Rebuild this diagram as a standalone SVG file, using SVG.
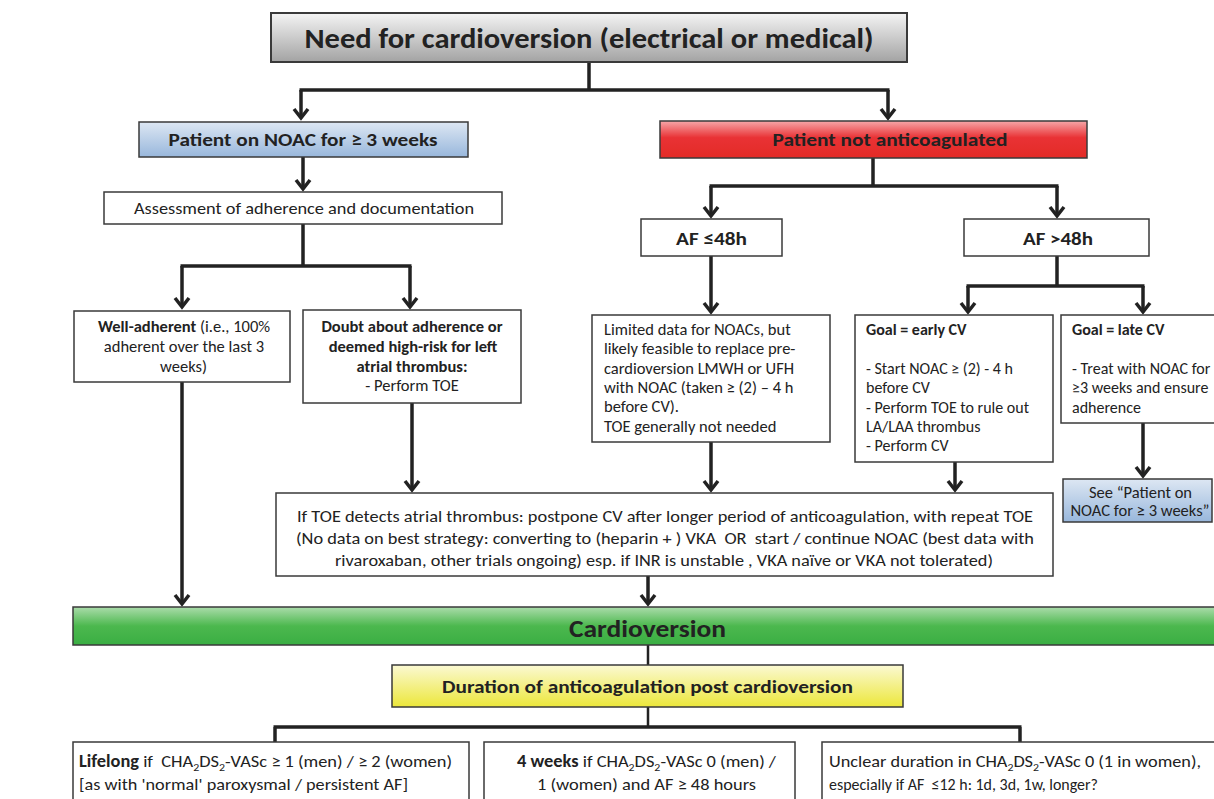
<svg xmlns="http://www.w3.org/2000/svg" width="1214" height="799" viewBox="0 0 1214 799">
<defs>
<linearGradient id="gGray" x1="0" y1="0" x2="0" y2="1"><stop offset="0" stop-color="#f4f4f4"/><stop offset="1" stop-color="#a3a3a3"/></linearGradient>
<linearGradient id="gBlue" x1="0" y1="0" x2="0" y2="1"><stop offset="0" stop-color="#dde7f3"/><stop offset="1" stop-color="#98b7dc"/></linearGradient>
<linearGradient id="gRed" x1="0" y1="0" x2="0" y2="1"><stop offset="0" stop-color="#f6a7a9"/><stop offset="0.45" stop-color="#e93235"/><stop offset="1" stop-color="#e32b26"/></linearGradient>
<linearGradient id="gGreen" x1="0" y1="0" x2="0" y2="1"><stop offset="0" stop-color="#abdcab"/><stop offset="0.5" stop-color="#4cb84e"/><stop offset="1" stop-color="#3aae43"/></linearGradient>
<linearGradient id="gYellow" x1="0" y1="0" x2="0" y2="1"><stop offset="0" stop-color="#fbf9d3"/><stop offset="1" stop-color="#ece73a"/></linearGradient>
<marker id="ah" markerUnits="userSpaceOnUse" viewBox="-14 -10 18 20" refX="0" refY="0" markerWidth="18" markerHeight="20" orient="auto" overflow="visible">
<path d="M-9,-7 L0,0 L-9,7" fill="none" stroke="#222" stroke-width="3.5"/>
</marker>
</defs>
<style>
text{font-family:Carlito,Calibri,Lato,"Open Sans",sans-serif;fill:#222;}
.box{fill:#fff;stroke:#3a3a3a;stroke-width:1.5;}
.b{font-weight:bold;}
.c{text-anchor:middle;}
.m{font-size:16.5px;}
.s{font-size:16px;}
.con{fill:none;stroke:#222;stroke-width:3.5;}
.arr{fill:none;stroke:#222;stroke-width:3.5;marker-end:url(#ah);}
.thin{fill:none;stroke:#222;stroke-width:2.5;}
</style>
<rect width="1214" height="799" fill="#fff"/>

<g id="connectors">
<path class="con" d="M589,62 V90 M299.5,90 H889.5"/>
<path class="arr" d="M301,90 V118"/>
<path class="arr" d="M888,90 V118"/>
<path class="arr" d="M303,157 V189"/>
<path class="con" d="M303,224 V266 M180.5,266 H411.5"/>
<path class="arr" d="M182,266 V307"/>
<path class="arr" d="M410,266 V307"/>
<path class="con" d="M873,158 V186 M709.5,186 H1058.5"/>
<path class="arr" d="M711,186 V216"/>
<path class="arr" d="M1057,186 V216"/>
<path class="arr" d="M711,256 V312"/>
<path class="con" d="M1057,256 V286 M966.5,286 H1144.5"/>
<path class="arr" d="M968,286 V312"/>
<path class="arr" d="M1143,286 V312"/>
<path class="arr" d="M1143,423 V476"/>
<path class="arr" d="M412,403 V490"/>
<path class="arr" d="M711,442 V490"/>
<path class="arr" d="M955,462 V490"/>
<path class="arr" d="M182,382 V604"/>
<path class="arr" d="M648,576 V604"/>
<path class="thin" d="M648,645 V665 M648,707 V727"/>
<path class="con" d="M273.5,727 H1021.5 M275,727 V742 M1020,727 V742"/>
</g>

<g id="title">
<rect x="271" y="13" width="636" height="49" fill="url(#gGray)" stroke="#3a3a3a" stroke-width="2"/>
<text class="b c" x="589" y="48" font-size="28" textLength="569" lengthAdjust="spacingAndGlyphs">Need for cardioversion (electrical or medical)</text>
</g>

<g id="noac">
<rect x="139" y="122" width="329" height="35" fill="url(#gBlue)" stroke="#3a3a3a" stroke-width="1.5"/>
<text class="b c" x="303" y="146" font-size="19" textLength="269" lengthAdjust="spacingAndGlyphs">Patient on NOAC for ≥ 3 weeks</text>
</g>

<g id="notanticoag">
<rect x="660" y="121" width="427" height="37" fill="url(#gRed)" stroke="#3a3a3a" stroke-width="1.5"/>
<text class="b c" x="890" y="146" font-size="19" textLength="235" lengthAdjust="spacingAndGlyphs">Patient not anticoagulated</text>
</g>

<g id="assessment">
<rect class="box" x="104" y="192" width="398" height="32"/>
<text class="c" x="304" y="214" font-size="16" textLength="340" lengthAdjust="spacingAndGlyphs">Assessment of adherence and documentation</text>
</g>

<g id="welladherent">
<rect class="box" x="74" y="311" width="216" height="71"/>
<text class="c m" x="184" y="332"><tspan class="b">Well-adherent</tspan> (i.e., 100%</text>
<text class="c m" x="184" y="352">adherent over the last 3</text>
<text class="c m" x="183.5" y="372">weeks)</text>
</g>

<g id="doubt">
<rect class="box" x="303" y="310" width="218" height="93"/>
<text class="b c m" x="412" y="332">Doubt about adherence or</text>
<text class="b c m" x="413" y="352">deemed high-risk for left</text>
<text class="b c m" x="412" y="372">atrial thrombus:</text>
<text class="c m" x="412" y="391">- Perform TOE</text>
</g>

<g id="af48le">
<rect class="box" x="641" y="219" width="141" height="37"/>
<text class="b c" x="711.5" y="245" font-size="19" textLength="71" lengthAdjust="spacingAndGlyphs">AF ≤48h</text>
</g>

<g id="af48gt">
<rect class="box" x="964" y="219" width="185" height="37"/>
<text class="b c" x="1058" y="245" font-size="19" textLength="70" lengthAdjust="spacingAndGlyphs">AF &gt;48h</text>
</g>

<g id="limited">
<rect class="box" x="592" y="315" width="238" height="127"/>
<text class="m" x="604" y="335">Limited data for NOACs, but</text>
<text class="m" x="604" y="354">likely feasible to replace pre-</text>
<text class="m" x="604" y="374">cardioversion LMWH or UFH</text>
<text class="m" x="604" y="393">with NOAC (taken ≥ (2) – 4 h</text>
<text class="m" x="604" y="412">before CV).</text>
<text class="m" x="604" y="432">TOE generally not needed</text>
</g>

<g id="earlycv">
<rect class="box" x="855" y="315" width="198" height="147"/>
<text class="b s" x="866" y="335">Goal = early CV</text>
<text class="s" x="866" y="374">- Start NOAC ≥ (2) - 4 h</text>
<text class="s" x="866" y="393">before CV</text>
<text class="s" x="866" y="413">- Perform TOE to rule out</text>
<text class="s" x="866" y="432">LA/LAA thrombus</text>
<text class="s" x="866" y="451">- Perform CV</text>
</g>

<g id="latecv">
<rect class="box" x="1061" y="315" width="160" height="108"/>
<text class="b s" x="1072" y="335">Goal = late CV</text>
<text class="s" x="1072" y="374">- Treat with NOAC for</text>
<text class="s" x="1072" y="393">≥3 weeks and ensure</text>
<text class="s" x="1072" y="413">adherence</text>
</g>

<g id="see">
<rect x="1063" y="479" width="149" height="43" fill="url(#gBlue)" stroke="#3a3a3a" stroke-width="1.5"/>
<text class="c m" x="1140.5" y="498">See “Patient on</text>
<text class="c m" x="1140" y="516">NOAC for ≥ 3 weeks”</text>
</g>

<g id="toe">
<rect class="box" x="276" y="493" width="777" height="83"/>
<text class="c" x="665" y="522" font-size="16.5" textLength="736" lengthAdjust="spacingAndGlyphs">If TOE detects atrial thrombus: postpone CV after longer period of anticoagulation, with repeat TOE</text>
<text class="c" x="665" y="544" font-size="16.5" textLength="738" lengthAdjust="spacingAndGlyphs">(No data on best strategy: converting to (heparin + ) VKA &#160;OR &#160;start / continue NOAC (best data with</text>
<text class="c" x="664" y="566" font-size="16.5" textLength="658" lengthAdjust="spacingAndGlyphs">rivaroxaban, other trials ongoing) esp. if INR is unstable , VKA naïve or VKA not tolerated)</text>
</g>

<g id="cardioversion">
<rect x="73" y="607" width="1150" height="38" fill="url(#gGreen)" stroke="#3a3a3a" stroke-width="1.5"/>
<text class="b c" x="647.5" y="637" font-size="25" textLength="157" lengthAdjust="spacingAndGlyphs">Cardioversion</text>
</g>

<g id="duration">
<rect x="392" y="665" width="511" height="42" fill="url(#gYellow)" stroke="#3a3a3a" stroke-width="1.5"/>
<text class="b c" x="647.5" y="693" font-size="18" textLength="411" lengthAdjust="spacingAndGlyphs">Duration of anticoagulation post cardioversion</text>
</g>

<g id="lifelong">
<rect class="box" x="73" y="742" width="396" height="70"/>
<text x="79" y="767" font-size="17" textLength="373" lengthAdjust="spacingAndGlyphs"><tspan class="b">Lifelong</tspan> if &#160;CHA<tspan font-size="11" dy="4">2</tspan><tspan dy="-4">DS</tspan><tspan font-size="11" dy="4">2</tspan><tspan dy="-4">-VASc ≥ 1 (men) / ≥ 2 (women)</tspan></text>
<text x="79" y="790" font-size="17" textLength="329" lengthAdjust="spacingAndGlyphs">[as with 'normal' paroxysmal / persistent AF]</text>
</g>

<g id="fourweeks">
<rect class="box" x="484" y="742" width="311" height="70"/>
<text x="517" y="767" font-size="17" textLength="259" lengthAdjust="spacingAndGlyphs"><tspan class="b">4 weeks</tspan> if CHA<tspan font-size="11" dy="4">2</tspan><tspan dy="-4">DS</tspan><tspan font-size="11" dy="4">2</tspan><tspan dy="-4">-VASc 0 (men) /</tspan></text>
<text class="c" x="646.5" y="790" font-size="17" textLength="219" lengthAdjust="spacingAndGlyphs">1 (women) and AF ≥ 48 hours</text>
</g>

<g id="unclear">
<rect class="box" x="822" y="742" width="400" height="70"/>
<text x="829" y="767" font-size="17" textLength="372" lengthAdjust="spacingAndGlyphs">Unclear duration in CHA<tspan font-size="11" dy="4">2</tspan><tspan dy="-4">DS</tspan><tspan font-size="11" dy="4">2</tspan><tspan dy="-4">-VASc 0 (1 in women),</tspan></text>
<text x="829" y="790" font-size="17" textLength="269" lengthAdjust="spacingAndGlyphs">especially if AF &#160;≤12 h: 1d, 3d, 1w, longer?</text>
</g>
</svg>
